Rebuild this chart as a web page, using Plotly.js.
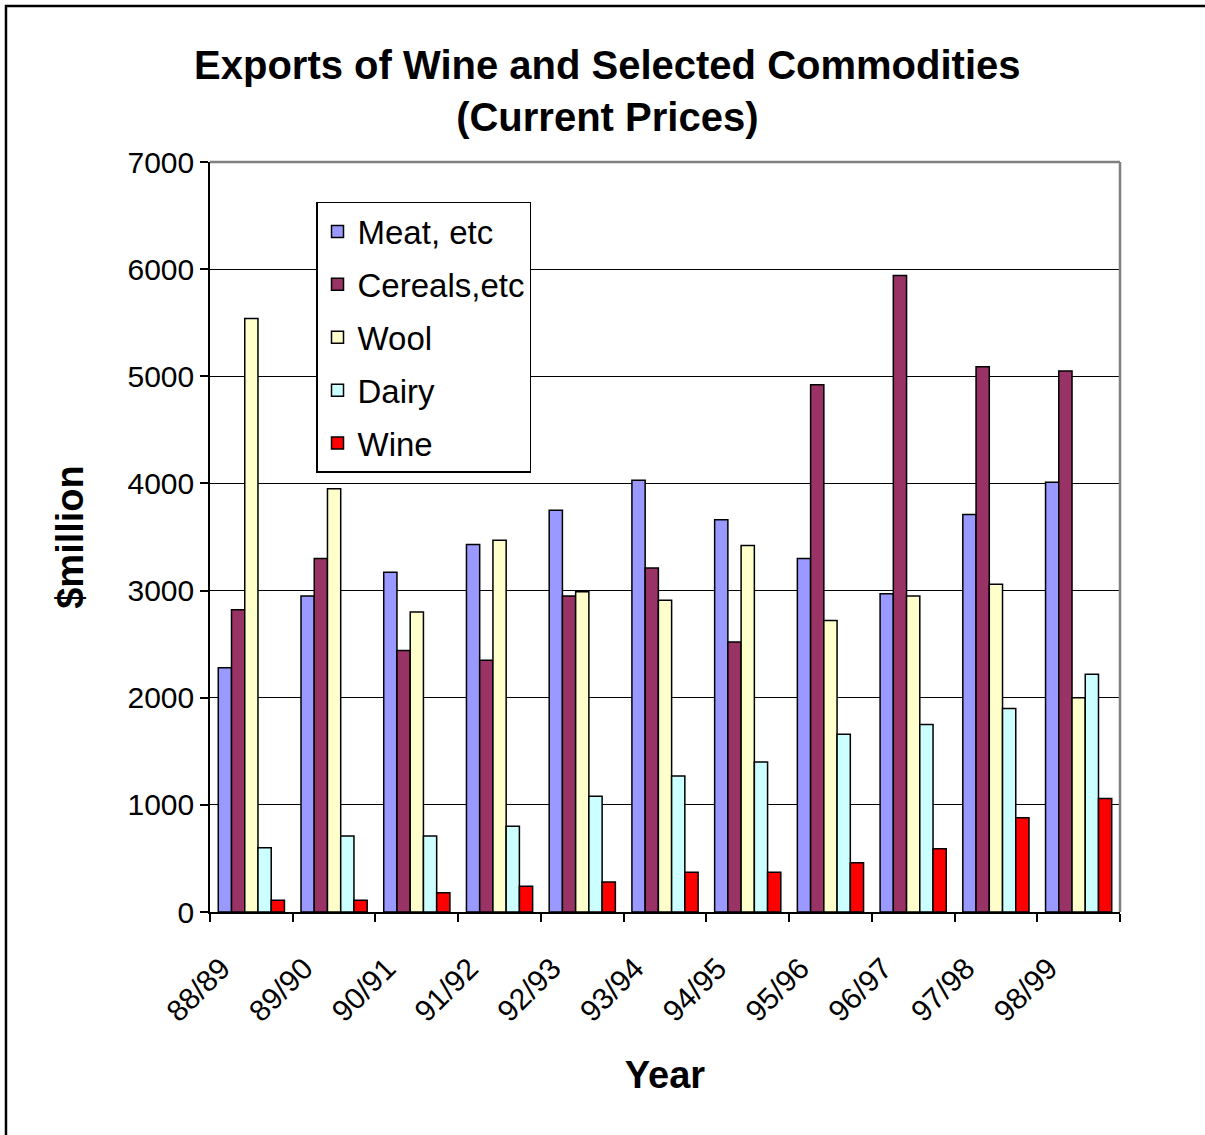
<!DOCTYPE html>
<html>
<head>
<meta charset="utf-8">
<script src="https://cdn.plot.ly/plotly-3.0.1.min.js"></script>
<style>
  html, body { margin: 0; padding: 0; background: #fff; }
  #chart { width: 1205px; height: 1135px; }
</style>
</head>
<body>
<div id="chart"></div>
<script>
const years = ["88/89","89/90","90/91","91/92","92/93","93/94","94/95","95/96","96/97","97/98","98/99"];
const meat    = [2280, 2950, 3170, 3430, 3750, 4030, 3660, 3300, 2970, 3710, 4010];
const cereals = [2820, 3300, 2440, 2350, 2950, 3210, 2520, 4920, 5940, 5090, 5050];
const wool    = [5540, 3950, 2800, 3470, 2990, 2910, 3420, 2720, 2950, 3060, 2000];
const dairy   = [600, 710, 710, 800, 1080, 1270, 1400, 1660, 1750, 1900, 2220];
const wine    = [110, 110, 180, 240, 280, 370, 370, 460, 590, 880, 1060];
const yTicks  = [0, 1000, 2000, 3000, 4000, 5000, 6000, 7000];

const seriesNames  = ["Meat, etc", "Cereals,etc", "Wool", "Dairy", "Wine"];
const seriesValues = [meat, cereals, wool, dairy, wine];
const seriesColors = ["#9999FF", "#993366", "#FFFFCC", "#CCFFFF", "#FF0000"];

const FONT = "Liberation Sans, Arial, Helvetica, sans-serif";

const traces = seriesNames.map((name, i) => ({
  type: "bar",
  name: name,
  x: years,
  y: seriesValues[i],
  legendgroup: "g" + i,
  marker: { color: seriesColors[i], line: { color: "#000000", width: 1.5 } },
  hoverinfo: "x+y+name"
}));

const layout = {
  width: 1205,
  height: 1135,
  margin: { l: 210, r: 85, t: 162, b: 223, pad: 0 },
  paper_bgcolor: "#ffffff",
  plot_bgcolor: "#ffffff",
  font: { family: FONT, color: "#000000", size: 30 },
  title: {
    text: "<b>Exports of Wine and Selected Commodities<br>(Current Prices)</b>",
    font: { family: FONT, size: 40, color: "#000000" },
    x: 0.504, xref: "container", xanchor: "center",
    y: 0.93, yref: "container", yanchor: "top"
  },
  barmode: "group",
  bargap: 0.2,
  bargroupgap: 0,
  showlegend: true,
  legend: {
    x: 0.1165, y: 0.9467, xanchor: "left", yanchor: "top",
    bgcolor: "#ffffff", bordercolor: "#000000", borderwidth: 1.5,
    font: { family: FONT, size: 33, color: "#000000" },
    traceorder: "grouped",
    tracegroupgap: 7
  },
  xaxis: {
    type: "category",
    tickson: "boundaries",
    ticks: "outside", ticklen: 8, tickwidth: 1.5, tickcolor: "#000000",
    tickangle: -45,
    ticklabelshift: -30,
    ticklabelstandoff: 25,
    tickfont: { family: FONT, size: 30, color: "#000000" },
    showline: true, linecolor: "#000000", linewidth: 1.5,
    showgrid: false, zeroline: false,
    title: { text: "<b>Year</b>", font: { family: FONT, size: 38, color: "#000000" }, standoff: 35 }
  },
  yaxis: {
    range: [0, 7000],
    tickvals: yTicks,
    ticktext: yTicks.map(String),
    ticks: "outside", ticklen: 8, tickwidth: 1.5, tickcolor: "#000000",
    tickfont: { family: FONT, size: 30, color: "#000000" },
    showline: true, linecolor: "#000000", linewidth: 1.5,
    showgrid: true, gridcolor: "#000000", gridwidth: 1.2,
    zeroline: false,
    title: { text: "<b>$million</b>", font: { family: FONT, size: 38, color: "#000000" }, standoff: 32 }
  },
  shapes: [
    { type: "line", xref: "paper", yref: "paper", x0: 0, x1: 1, y0: 1, y1: 1,
      line: { color: "#808080", width: 2.5 } },
    { type: "line", xref: "paper", yref: "paper", x0: 1, x1: 1, y0: 0, y1: 1,
      line: { color: "#808080", width: 2.5 } },
    { type: "rect", xref: "paper", yref: "paper", x0: -0.2242, x1: 1.099, y0: -0.304, y1: 1.208,
      line: { color: "#000000", width: 2.5 }, fillcolor: "rgba(0,0,0,0)" }
  ]
};

Plotly.newPlot("chart", traces, layout, { displayModeBar: false, responsive: false });
</script>
</body>
</html>
